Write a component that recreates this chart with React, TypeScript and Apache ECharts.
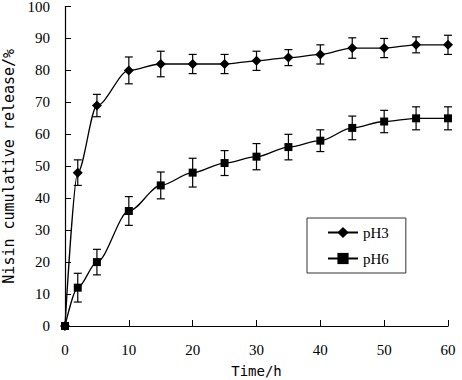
import React, { useEffect, useRef } from "react";
import * as echarts from "echarts";

const times = [0, 2, 5, 10, 15, 20, 25, 30, 35, 40, 45, 50, 55, 60];
const ph3 = [0, 48, 69, 80, 82, 82, 82, 83, 84, 85, 87, 87, 88, 88];
const ph3Err = [0, 4, 3.5, 4.2, 4, 3, 3, 3, 2.5, 3, 3.2, 3, 2.5, 3];
const ph6 = [0, 12, 20, 36, 44, 48, 51, 53, 56, 58, 62, 64, 65, 65];
const ph6Err = [0, 4.5, 4, 4.5, 4.2, 4.5, 3.9, 4.1, 4, 3.4, 3.7, 3.5, 3.6, 3.6];

const serif = "Liberation Serif";
const mono = "DejaVu Sans Mono";

function errData(vals: number[], errs: number[]) {
  return times
    .map((t, i) => [t, vals[i] - errs[i], vals[i] + errs[i]])
    .filter((_, i) => errs[i] > 0);
}

function errSeries(vals: number[], errs: number[]) {
  return {
    type: "custom",
    silent: true,
    data: errData(vals, errs),
    encode: { x: 0, y: [1, 2] },
    z: 1,
    renderItem: (params: any, api: any) => {
      const x = api.value(0);
      const lo = api.coord([x, api.value(1)]);
      const hi = api.coord([x, api.value(2)]);
      const w = 4;
      const style = { stroke: "#000", lineWidth: 1.2 };
      return {
        type: "group",
        children: [
          { type: "line", shape: { x1: lo[0], y1: lo[1], x2: hi[0], y2: hi[1] }, style },
          { type: "line", shape: { x1: lo[0] - w, y1: lo[1], x2: lo[0] + w, y2: lo[1] }, style },
          { type: "line", shape: { x1: hi[0] - w, y1: hi[1], x2: hi[0] + w, y2: hi[1] }, style },
        ],
      };
    },
  };
}

export default function App() {
  const ref = useRef<HTMLDivElement>(null);
  useEffect(() => {
    if (!ref.current) return;
    const chart = echarts.init(ref.current, null, { renderer: "svg" });
    chart.setOption({
      animation: false,
      backgroundColor: "#fff",
      grid: { left: 65, right: 14, top: 6.5, bottom: 54, containLabel: false, outerBoundsMode: "none" },
      legend: {
        data: ["pH3", "pH6"],
        orient: "vertical",
        left: 307,
        top: 218,
        itemWidth: 30,
        itemHeight: 14,
        itemGap: 11,
        padding: [7, 17, 7, 20],
        borderColor: "#333",
        borderWidth: 1,
        textStyle: { fontFamily: serif, fontSize: 15, color: "#000" },
      },
      xAxis: {
        type: "value",
        min: 0,
        max: 60,
        interval: 10,
        name: "Time/h",
        nameLocation: "middle",
        nameGap: 38,
        nameTextStyle: { fontFamily: mono, fontSize: 14, color: "#000" },
        axisLine: { lineStyle: { color: "#000", width: 1.2 } },
        axisTick: { inside: true, length: 6, lineStyle: { color: "#000" } },
        axisLabel: { fontFamily: serif, fontSize: 15, color: "#000", margin: 16 },
        splitLine: { show: false },
      },
      yAxis: {
        type: "value",
        min: 0,
        max: 100,
        interval: 10,
        name: "Nisin cumulative release/%",
        nameLocation: "middle",
        nameGap: 49,
        nameTextStyle: { fontFamily: mono, fontSize: 15, color: "#000" },
        axisLine: { show: true, lineStyle: { color: "#000", width: 1.2 } },
        axisTick: { show: true, inside: true, length: 6, lineStyle: { color: "#000" } },
        axisLabel: { fontFamily: serif, fontSize: 15, color: "#000", margin: 15 },
        splitLine: { show: false },
      },
      series: [
        errSeries(ph3, ph3Err),
        errSeries(ph6, ph6Err),
        {
          name: "pH3",
          type: "line",
          data: times.map((t, i) => [t, ph3[i]]),
          smooth: 0.3,
          smoothMonotone: "x",
          symbol: "diamond",
          symbolSize: 10,
          itemStyle: { color: "#000" },
          lineStyle: { color: "#000", width: 1.3 },
          z: 3,
        },
        {
          name: "pH6",
          type: "line",
          data: times.map((t, i) => [t, ph6[i]]),
          smooth: 0.3,
          smoothMonotone: "x",
          symbol: "rect",
          symbolSize: 8,
          itemStyle: { color: "#000" },
          lineStyle: { color: "#000", width: 1.3 },
          z: 3,
        },
      ],
    });
    return () => chart.dispose();
  }, []);
  return <div ref={ref} style={{ width: 462, height: 380, position: "absolute", left: 0, top: 0 }} />;
}
